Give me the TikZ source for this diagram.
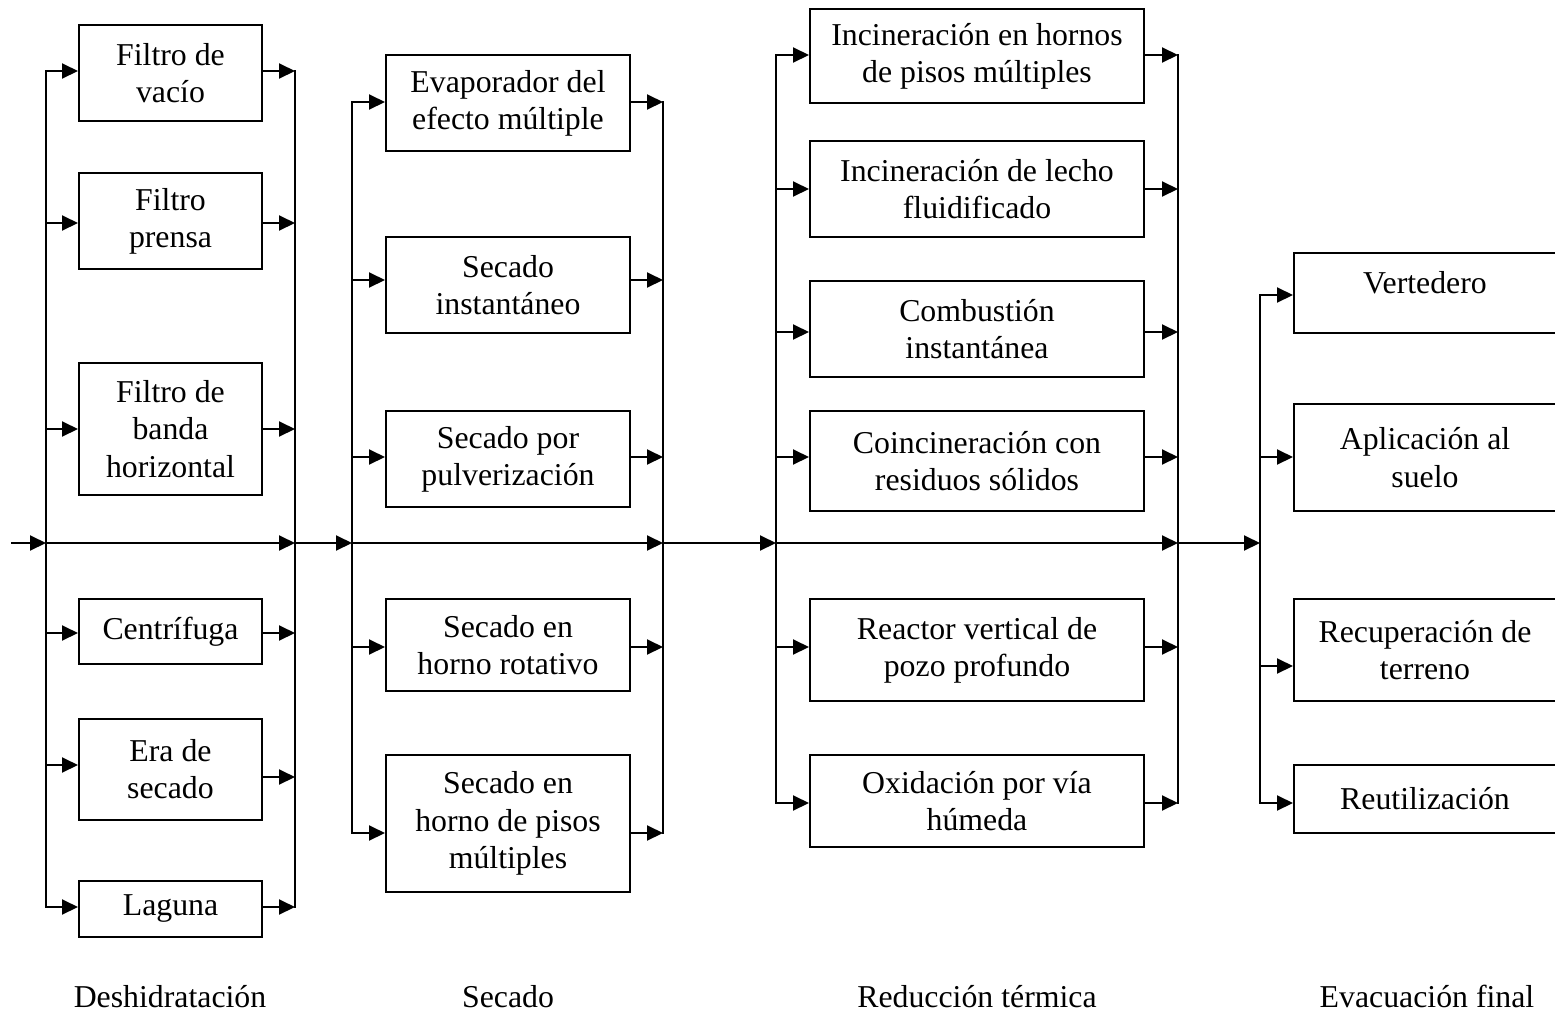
\documentclass[tikz,border=0pt]{standalone}
\usepackage{fontspec}
\setmainfont{Liberation Serif}
\usetikzlibrary{arrows.meta}

% branch arrows: bus -> box (west side) and box (east side) -> bus, with vertical offset in px
\newcommand\inarrow[3]{%
  \path (#2.west) ++(0,#3) coordinate (#2-i);
  \draw[arr] (#1 |- #2-i) -- (#2-i);}
\newcommand\outarrow[3]{%
  \path (#2.east) ++(0,#3) coordinate (#2-o);
  \draw[arr] (#2-o) -- (#1 |- #2-o);}

\begin{document}
\begin{tikzpicture}[x=0.5pt,y=-0.5pt,
  line width=1pt, line cap=rect,
  arr/.style={-{Triangle[length=8pt,width=7.5pt]}},
  txt/.style={font=\fontsize{15.9}{18.6}\selectfont},
  box/.style={draw, rectangle, inner sep=0pt, align=center, txt},
  c1/.style={box, minimum width=91.5pt},
  c2/.style={box, minimum width=122pt},
  c3/.style={box, minimum width=167pt},
  c4/.style={box, minimum width=131pt},
  lbl/.style={anchor=base, txt}]

\useasboundingbox (0,0) rectangle (1555,1013);
\clip (0,0) rectangle (1555,1013);

% main line junctions
\coordinate (in0) at (12,543);
\coordinate (L1) at (46,543);
\coordinate (R1) at (295,543);
\coordinate (L2) at (352,543);
\coordinate (R2) at (663,543);
\coordinate (L3) at (776,543);
\coordinate (R3) at (1178,543);
\coordinate (L4) at (1260,543);

% ---- Deshidratación ----
\node[c1, minimum height=48pt]   (vacio) at (170.5,73)    {Filtro de\\vacío};
\node[c1, minimum height=48pt]   (prensa) at (170.5,221)  {Filtro\\prensa};
\node[c1, minimum height=66pt]   (banda) at (170.5,429)   {Filtro de\\banda\\horizontal};
\node[c1, minimum height=32.5pt] (centri) at (170.5,631.5) {Centrífuga};
\node[c1, minimum height=50.5pt] (era) at (170.5,769.5)   {Era de\\secado};
\node[c1, minimum height=28pt]   (laguna) at (170.5,909)  {Laguna};

% ---- Secado ----
\node[c2, minimum height=48pt]   (evap) at (508,103)    {Evaporador del\\efecto múltiple};
\node[c2, minimum height=48pt]   (inst) at (508,285)    {Secado\\instantáneo};
\node[c2, minimum height=48pt]   (pulv) at (508,459)    {Secado por\\pulverización};
\node[c2, minimum height=46pt]   (rota) at (508,645)    {Secado en\\horno rotativo};
\node[c2, minimum height=68.5pt] (pisos) at (508,823.5) {Secado en\\horno de pisos\\múltiples};

% ---- Reducción térmica ----
\node[c3, minimum height=47pt] (hornos) at (977,56)  {Incineración en hornos\\de pisos múltiples};
\node[c3, minimum height=48pt] (lecho) at (977,189)  {Incineración de lecho\\fluidificado};
\node[c3, minimum height=48pt] (comb) at (977,329)   {Combustión\\instantánea};
\node[c3, minimum height=50pt] (coinc) at (977,461)  {Coincineración con\\residuos sólidos};
\node[c3, minimum height=51pt] (reac) at (977,650)   {Reactor vertical de\\pozo profundo};
\node[c3, minimum height=46pt] (oxid) at (977,801)   {Oxidación por vía\\húmeda};

% ---- Evacuación final ----
\node[c4, minimum height=40pt]   (vert) at (1425,293)   {};
\node[txt] (verttxt) at ([yshift=5pt]vert.center) {Vertedero};
\node[c4, minimum height=53.5pt] (apli) at (1425,457.5) {Aplicación al\\suelo};
\node[c4, minimum height=51pt]   (recu) at (1425,650)   {Recuperación de\\terreno};
\node[c4, minimum height=34pt]   (reut) at (1425,799)   {Reutilización};

% branch arrows
\inarrow{L1}{vacio}{-2}    \outarrow{R1}{vacio}{-2}
\inarrow{L1}{prensa}{2}    \outarrow{R1}{prensa}{2}
\inarrow{L1}{banda}{0}     \outarrow{R1}{banda}{0}
\inarrow{L1}{centri}{1.5}  \outarrow{R1}{centri}{1.5}
\inarrow{L1}{era}{-4.5}    \outarrow{R1}{era}{7.5}
\inarrow{L1}{laguna}{-2}   \outarrow{R1}{laguna}{-2}

\inarrow{L2}{evap}{-1}     \outarrow{R2}{evap}{-1}
\inarrow{L2}{inst}{-5}     \outarrow{R2}{inst}{-5}
\inarrow{L2}{pulv}{-2}     \outarrow{R2}{pulv}{-2}
\inarrow{L2}{rota}{2}      \outarrow{R2}{rota}{2}
\inarrow{L2}{pisos}{9.5}   \outarrow{R2}{pisos}{9.5}

\inarrow{L3}{hornos}{-1}   \outarrow{R3}{hornos}{-1}
\inarrow{L3}{lecho}{0}     \outarrow{R3}{lecho}{0}
\inarrow{L3}{comb}{3}      \outarrow{R3}{comb}{3}
\inarrow{L3}{coinc}{-4}    \outarrow{R3}{coinc}{-4}
\inarrow{L3}{reac}{-3}     \outarrow{R3}{reac}{-3}
\inarrow{L3}{oxid}{2}      \outarrow{R3}{oxid}{2}

\inarrow{L4}{vert}{2}
\inarrow{L4}{apli}{-0.5}
\inarrow{L4}{recu}{16}
\inarrow{L4}{reut}{4}

% vertical buses
\draw (L1 |- vacio-i) -- (L1 |- laguna-i);
\draw (R1 |- vacio-o) -- (R1 |- laguna-o);
\draw (L2 |- evap-i) -- (L2 |- pisos-i);
\draw (R2 |- evap-o) -- (R2 |- pisos-o);
\draw (L3 |- hornos-i) -- (L3 |- oxid-i);
\draw (R3 |- hornos-o) -- (R3 |- oxid-o);
\draw (L4 |- vert-i) -- (L4 |- reut-i);

% main line
\draw[arr] (in0) -- (L1);
\draw[arr] (L1) -- (R1);
\draw[arr] (R1) -- (L2);
\draw[arr] (L2) -- (R2);
\draw[arr] (R2) -- (L3);
\draw[arr] (L3) -- (R3);
\draw[arr] (R3) -- (L4);

% stage labels
\node[lbl] (s1) at (170,1007)  {Deshidratación};
\node[lbl] (s2) at (508,1007)  {Secado};
\node[lbl] (s3) at (977,1007)  {Reducción térmica};
\node[lbl] (s4) at (1427,1007) {Evacuación final};

\end{tikzpicture}
\end{document}
